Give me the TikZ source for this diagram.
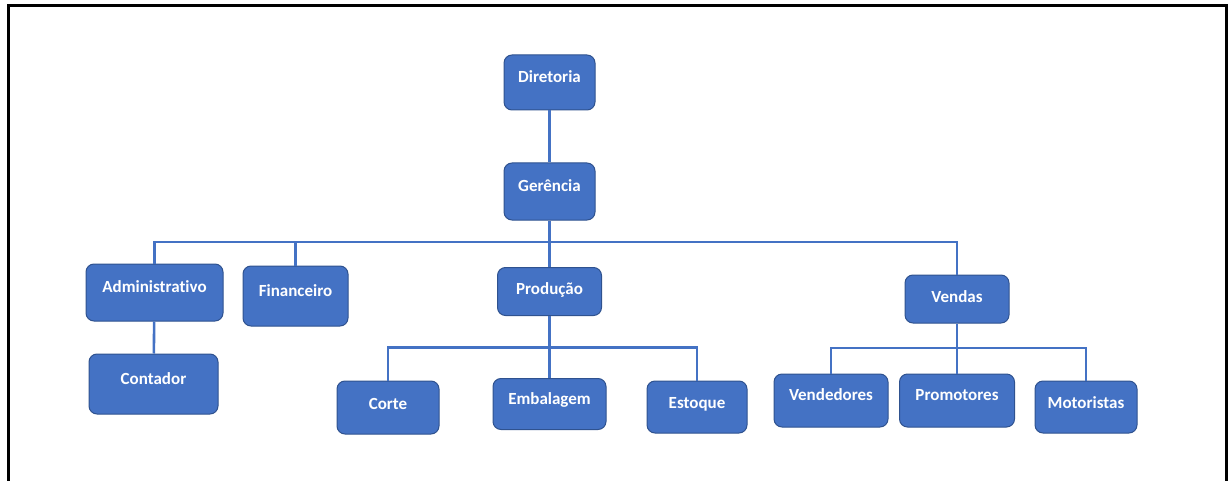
\documentclass[tikz,border=0pt]{standalone}
\usepackage{fontspec}
\setmainfont{Carlito}[Ligatures=CommonOff]
\usepackage{tikz}
\usetikzlibrary{positioning, calc}
\definecolor{unitblue}{HTML}{4472C4}
\definecolor{unitedge}{HTML}{2F528F}
\tikzset{
    unitbox/.style={rectangle, rounded corners=8pt, fill=unitblue, draw=unitedge, line width=1pt, text=white, font=\bfseries\fontsize{17}{20}\selectfont, align=center, text height=11pt, text depth=11pt, inner sep=0pt},
    orgline/.style={draw=unitblue, line width=2.6pt},
}

\begin{document}
\begin{tikzpicture}[x=1pt, y=-1pt,
  frameline/.style={black, line width=2.5pt}
]
\useasboundingbox (0,0) rectangle (1230,481);
% Outer frame (open at the bottom)
\draw[frameline] (8.5,481) -- (8.5,5.5) -- (1226.5,5.5) -- (1226.5,481);

% Top levels
\node[unitbox, minimum width=91pt, minimum height=55pt] (diretoria) at (549.5,82.5) {Diretoria};
\node[unitbox, minimum width=91pt, minimum height=57pt] (gerencia) at (549.5,191.5) {Gerência};

% Departments
\node[unitbox, minimum width=137pt, minimum height=57pt] (admin) at (154.5,292.5) {Administrativo};
\node[unitbox, minimum width=105pt, minimum height=60pt] (financeiro) at (295.5,296) {Financeiro};
\node[unitbox, minimum width=104pt, minimum height=48pt, text depth=6pt] (producao) at (549.5,291.5) {Produção};
\node[unitbox, minimum width=104pt, minimum height=48pt, text depth=5pt] (vendas) at (957,299) {Vendas};

% Sub units
\node[unitbox, minimum width=129pt, minimum height=60pt] (contador) at (153.5,384) {Contador};
\node[unitbox, minimum width=102pt, minimum height=53pt, text depth=8pt] (corte) at (388,407.5) {Corte};
\node[unitbox, minimum width=113pt, minimum height=51pt] (embalagem) at (549.5,404) {Embalagem};
\node[unitbox, minimum width=100pt, minimum height=52pt, text depth=8pt] (estoque) at (697,407) {Estoque};
\node[unitbox, minimum width=114pt, minimum height=53pt] (vendedores) at (831,400.5) {Vendedores};
\node[unitbox, minimum width=115pt, minimum height=53pt] (promotores) at (957,400.5) {Promotores};
\node[unitbox, minimum width=102pt, minimum height=52pt, text depth=8pt] (motoristas) at (1086,407) {Motoristas};

% Bus coordinates
\coordinate (busA) at (549.5,242);
\coordinate (busP) at (549.5,347.5);
\coordinate (busV) at (957,348);

% Connectors
\draw[orgline] (diretoria) -- (gerencia);
\draw[orgline] (gerencia) -- (busA);
\draw[orgline] (admin.north) |- (busA);
\draw[orgline] (financeiro.north) |- (busA);
\draw[orgline] (vendas.north) |- (busA);
\draw[orgline] (busA) -- (producao);
\draw[orgline] (admin) -- (contador);

\draw[orgline] (producao) -- (busP);
\draw[orgline] (corte.north) |- (busP);
\draw[orgline] (estoque.north) |- (busP);
\draw[orgline] (busP) -- (embalagem);

\draw[orgline] (vendas) -- (busV);
\draw[orgline] (vendedores.north) |- (busV);
\draw[orgline] (motoristas.north) |- (busV);
\draw[orgline] (busV) -- (promotores);
\end{tikzpicture}
\end{document}
